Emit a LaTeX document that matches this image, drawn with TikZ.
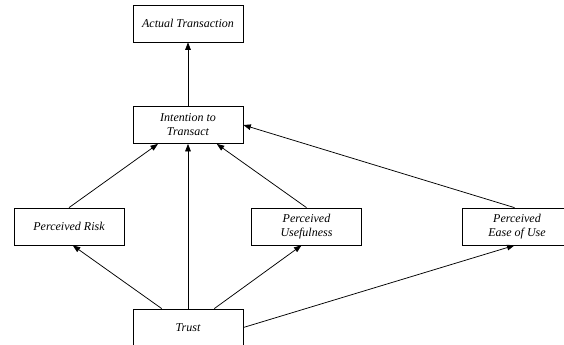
\documentclass[tikz,border=0pt]{standalone}
\usepackage{fontspec}
\setmainfont{Liberation Serif}
\usetikzlibrary{arrows.meta, positioning}

\tikzset{
   factor/.style = {draw, line width=0.6pt, minimum width=88pt, minimum height=29.6pt,
      inner sep=1pt, align=center, font=\fontsize{9.6}{11.2}\selectfont\itshape},
}

\begin{document}
\begin{tikzpicture}[x=0.8pt, y=-0.8pt,
   -{Triangle[length=6pt, width=4.5pt]}, line width=0.6pt]
   \useasboundingbox (0,0) rectangle (564,345);

   \node[factor] (act)   at (188,23.5)  {Actual Transaction};
   \node[factor] (int)   at (188,125)   {Intention to\\Transact};
   \node[factor] (risk)  at (69,226.5)  {Perceived Risk};
   \node[factor] (use)   at (306.5,226.5) {Perceived\\Usefulness};
   \node[factor] (ease)  at (517,226.5) {Perceived\\Ease of Use};
   \node[factor] (trust) at (188,327.5) {Trust};

   \draw (int) -- (act);
   %
   \draw (risk.north) -- ([xshift=-24pt]int.south);
   \draw (trust) -- (int);
   \draw (use.north) -- ([xshift=23pt]int.south);
   \draw ([xshift=-2pt]ease.north) -- (int.east);
   %
   \draw ([xshift=-21pt]trust.north) -- ([xshift=3pt]risk.south);
   \draw ([xshift=21pt]trust.north) -- ([xshift=-4pt]use.south);
   \draw (trust.east) -- ([xshift=-2pt]ease.south);
\end{tikzpicture}
\end{document}
